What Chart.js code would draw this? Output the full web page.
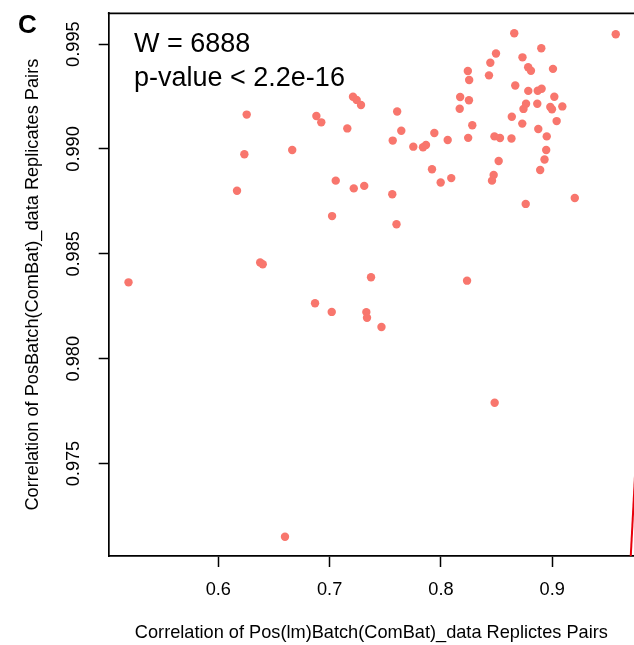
<!DOCTYPE html>
<html>
<head>
<meta charset="utf-8">
<script src="https://cdn.jsdelivr.net/npm/chart.js@4/dist/chart.umd.min.js"></script>
<style>
    body { margin: 0; background: #fff; }
    canvas { display: block; }
</style>
</head>
<body>
<canvas id="scatterChart" width="634" height="645"></canvas>
<script>
// Correlation per replicate pair (x: Pos(lm)Batch, y: PosBatch)
const corrX = [
    0.5193, 0.6255, 0.6234, 0.6664, 0.6168, 0.6376, 0.6399, 0.6599, 0.6881, 0.6925,
    0.7159, 0.7210, 0.7243, 0.7282, 0.7607, 0.7644, 0.7567, 0.7055, 0.7022, 0.7217,
    0.7311, 0.7563, 0.7601, 0.7752, 0.7839, 0.7866, 0.7941, 0.8061, 0.7920, 0.7998,
    0.8093, 0.7372, 0.6869, 0.7019, 0.7330, 0.7336, 0.7466, 0.8235, 0.8483, 0.8659,
    0.9571, 0.8902, 0.8495, 0.8733, 0.8444, 0.8784, 0.8809, 0.9007, 0.8242, 0.8254,
    0.8432, 0.8668, 0.8785, 0.8870, 0.8905, 0.9019, 0.8173, 0.8252, 0.9091, 0.8983,
    0.8998, 0.8765, 0.8866, 0.8742, 0.8169, 0.8637, 0.9040, 0.8731, 0.8282, 0.8875,
    0.8951, 0.8481, 0.8531, 0.8634, 0.8245, 0.8946, 0.8931, 0.8892, 0.8519, 0.8474,
    0.8459, 0.8762, 0.9203
];
const corrY = [
    0.98364, 0.99164, 0.98975, 0.98995, 0.98801, 0.98459, 0.98450, 0.97151, 0.99157, 0.99127,
    0.99098, 0.99249, 0.99234, 0.99210, 0.99179, 0.99087, 0.99040, 0.98849, 0.98680, 0.98812,
    0.98824, 0.98784, 0.98641, 0.99011, 0.99008, 0.99019, 0.99076, 0.99043, 0.98903, 0.98840,
    0.98861, 0.98388, 0.98264, 0.98223, 0.98222, 0.98195, 0.98151, 0.98372, 0.97790, 0.99552,
    0.99547, 0.99480, 0.99455, 0.99437, 0.99411, 0.99390, 0.99373, 0.99382, 0.99372, 0.99329,
    0.99351, 0.99303, 0.99277, 0.99278, 0.99287, 0.99249, 0.99248, 0.99232, 0.99203, 0.99200,
    0.99189, 0.99216, 0.99216, 0.99191, 0.99192, 0.99154, 0.99133, 0.99121, 0.99113, 0.99095,
    0.99060, 0.99060, 0.99052, 0.99050, 0.99053, 0.98995, 0.98950, 0.98900, 0.98943, 0.98876,
    0.98849, 0.98738, 0.98766
];

// identity line y = x
const diagLine = [0.96, 1.0];

const xTicks = [0.6, 0.7, 0.8, 0.9];
const yTicks = [0.975, 0.980, 0.985, 0.990, 0.995];

const statLines = ['W = 6888', 'p-value < 2.2e-16'];
const panelLabel = 'C';
const xTitle = 'Correlation of Pos(lm)Batch(ComBat)_data Replictes Pairs';
const yTitle = 'Correlation of PosBatch(ComBat)_data Replicates Pairs';

const FONT = "'Liberation Sans', Arial, sans-serif";

// Extra drawing: top frame line, stats text and panel letter
const annotate = {
    id: 'annotate',
    afterDraw(chart) {
        const ctx = chart.ctx;
        const area = chart.chartArea;
        ctx.save();
        ctx.strokeStyle = '#000';
        ctx.lineWidth = 1.7;
        ctx.beginPath();
        ctx.moveTo(area.left - 0.85, area.top);
        ctx.lineTo(area.right, area.top);
        ctx.stroke();

        ctx.fillStyle = '#000';
        ctx.textAlign = 'left';
        ctx.textBaseline = 'alphabetic';
        ctx.font = '27px ' + FONT;
        ctx.fillText(statLines[0], 134, 52);
        ctx.fillText(statLines[1], 134, 85.5);

        ctx.font = 'bold 26px ' + FONT;
        ctx.fillText(panelLabel, 18, 33);
        ctx.restore();
    }
};

new Chart(document.getElementById('scatterChart'), {
    type: 'scatter',
    data: {
        datasets: [{
            label: 'pairs',
            data: corrX.map((x, i) => ({ x: x, y: corrY[i] })),
            backgroundColor: '#F8766D',
            borderWidth: 0,
            pointRadius: 4.2,
            pointHoverRadius: 4.2
        }, {
            type: 'line',
            label: 'y = x',
            data: diagLine.map(v => ({ x: v, y: v })),
            borderColor: '#E8000B',
            borderWidth: 2,
            pointRadius: 0,
            fill: false,
            clip: 0
        }]
    },
    options: {
        responsive: false,
        animation: false,
        events: [],
        layout: {
            autoPadding: false,
            padding: { top: 13.3, right: 0, bottom: 0, left: 0 }
        },
        plugins: {
            legend: { display: false },
            tooltip: { enabled: false }
        },
        scales: {
            x: {
                type: 'linear',
                min: 0.5015,
                max: 0.9735,
                afterBuildTicks: scale => { scale.ticks = xTicks.map(v => ({ value: v })); },
                afterFit: scale => {
                    scale.height = 89;
                    scale.paddingLeft = 0;
                    scale.paddingRight = 0;
                },
                ticks: {
                    font: { family: FONT, size: 18.2 },
                    color: '#000',
                    padding: 11.6,
                    maxRotation: 0,
                    callback: v => v.toFixed(1)
                },
                grid: {
                    drawOnChartArea: false,
                    tickLength: 11,
                    tickWidth: 1.5,
                    tickColor: '#000'
                },
                border: { color: '#000', width: 1.7 },
                title: {
                    display: true,
                    text: xTitle,
                    color: '#000',
                    font: { family: FONT, size: 18.2 },
                    padding: { top: 0, bottom: 1.4 }
                }
            },
            y: {
                type: 'linear',
                min: 0.97059,
                max: 0.99647,
                afterBuildTicks: scale => { scale.ticks = yTicks.map(v => ({ value: v })); },
                afterFit: scale => {
                    scale.width = 108.7;
                    scale.paddingTop = 0;
                    scale.paddingBottom = 0;
                },
                ticks: {
                    font: { family: FONT, size: 18.2 },
                    color: '#000',
                    padding: 1.7,
                    minRotation: 90,
                    maxRotation: 90,
                    crossAlign: 'center',
                    callback: v => v.toFixed(3)
                },
                grid: {
                    drawOnChartArea: false,
                    tickLength: 10,
                    tickWidth: 1.5,
                    tickColor: '#000'
                },
                border: { color: '#000', width: 1.7 },
                title: {
                    display: true,
                    text: yTitle,
                    color: '#000',
                    font: { family: FONT, size: 18.2 },
                    padding: { top: 22, bottom: 0 }
                }
            }
        }
    },
    plugins: [annotate]
});
</script>
</body>
</html>
